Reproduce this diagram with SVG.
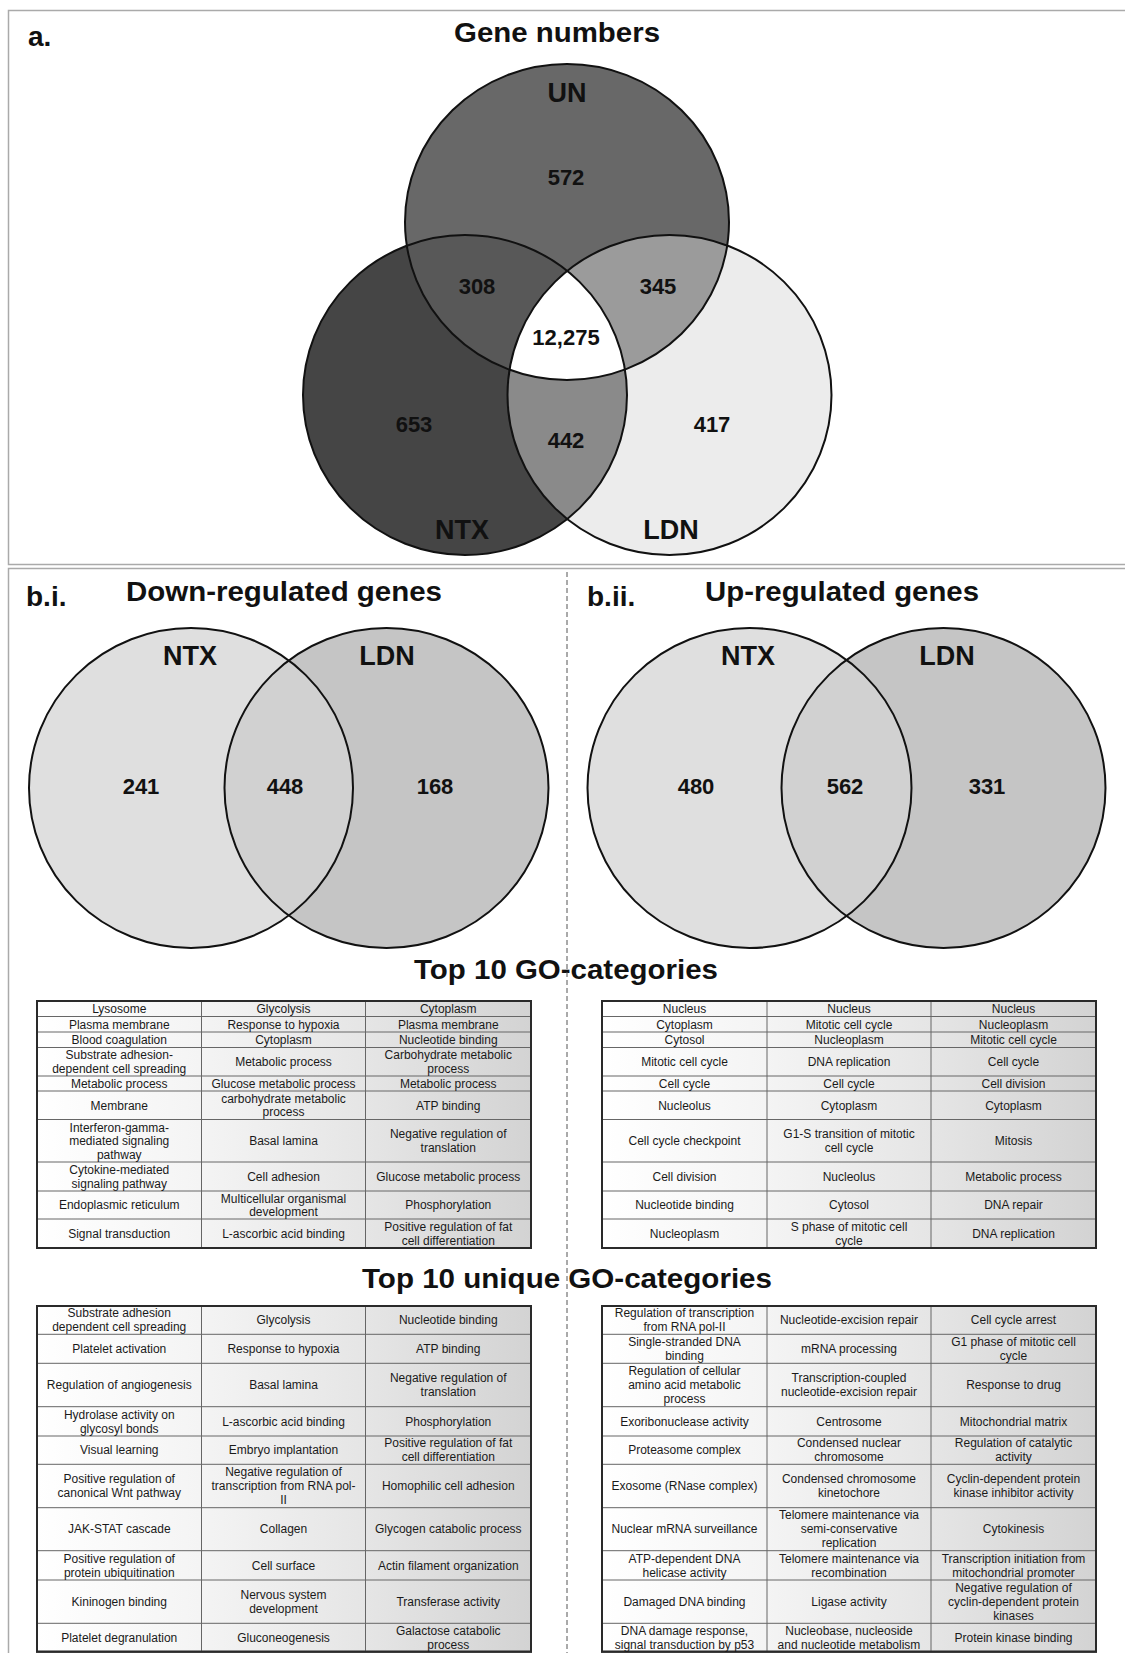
<svg xmlns="http://www.w3.org/2000/svg" width="1125" height="1653" viewBox="0 0 1125 1653">
<style>
text{font-family:"Liberation Sans",Arial,sans-serif;fill:#111}
.h{font-weight:bold;font-size:27px;text-anchor:middle}
.pl{font-weight:bold;font-size:28px}
.lab{font-weight:bold;font-size:27px;text-anchor:middle}
.num{font-weight:bold;font-size:22px;text-anchor:middle}
.c{font-size:12px;text-anchor:middle;fill:#1a1a1a}
.panel{fill:#fff;stroke:#aaa;stroke-width:1.5}
.ol{fill:none;stroke:#111;stroke-width:2}
.grid{fill:none;stroke:#666;stroke-width:1}
.tb{fill:url(#tg);stroke:#2a2a2a;stroke-width:2}
</style>
<defs>
<linearGradient id="tg" x1="0" y1="0" x2="1" y2="0">
<stop offset="0" stop-color="#ffffff"/>
<stop offset="0.33" stop-color="#f4f4f4"/>
<stop offset="0.67" stop-color="#e5e5e5"/>
<stop offset="1" stop-color="#d3d3d3"/>
</linearGradient>
<clipPath id="cUN"><ellipse cx="567" cy="222" rx="162" ry="158"/></clipPath>
<clipPath id="cNTX"><ellipse cx="465" cy="395" rx="162" ry="160"/></clipPath>
<clipPath id="cB1"><ellipse cx="386.5" cy="788" rx="162" ry="160"/></clipPath>
<clipPath id="cB2"><ellipse cx="943.5" cy="788" rx="162" ry="160"/></clipPath>
</defs>
<rect width="1125" height="1653" fill="#fff"/>

<g id="panel-a">
<rect class="panel" x="8.5" y="10.5" width="1130" height="554"/>
<text class="pl" x="28" y="46">a.</text>
<text class="h" x="557" y="42" textLength="206" lengthAdjust="spacingAndGlyphs">Gene numbers</text>
</g>

<g id="venn-a">
<ellipse cx="567" cy="222" rx="162" ry="158" fill="#686868"/>
<ellipse cx="465" cy="395" rx="162" ry="160" fill="#454545"/>
<ellipse cx="669.5" cy="395" rx="162" ry="160" fill="#ececec"/>
<g clip-path="url(#cUN)">
<ellipse cx="465" cy="395" rx="162" ry="160" fill="#585858"/>
<ellipse cx="669.5" cy="395" rx="162" ry="160" fill="#9b9b9b"/>
</g>
<g clip-path="url(#cNTX)">
<ellipse cx="669.5" cy="395" rx="162" ry="160" fill="#8a8a8a"/>
</g>
<g clip-path="url(#cUN)"><g clip-path="url(#cNTX)">
<ellipse cx="669.5" cy="395" rx="162" ry="160" fill="#ffffff"/>
</g></g>
<g id="set-UN"><ellipse class="ol" cx="567" cy="222" rx="162" ry="158"/><text class="lab" x="567" y="102">UN</text></g>
<g id="set-NTX"><ellipse class="ol" cx="465" cy="395" rx="162" ry="160"/><text class="lab" x="462" y="538.5">NTX</text></g>
<g id="set-LDN"><ellipse class="ol" cx="669.5" cy="395" rx="162" ry="160"/><text class="lab" x="671" y="538.5">LDN</text></g>
<text class="num" x="566" y="185">572</text>
<text class="num" x="477" y="293.5">308</text>
<text class="num" x="658" y="293.5">345</text>
<text class="num" x="566" y="345">12,275</text>
<text class="num" x="414" y="432">653</text>
<text class="num" x="566" y="447.5">442</text>
<text class="num" x="712" y="432">417</text>
</g>

<g id="panel-b">
<rect class="panel" x="8.5" y="568.5" width="1130" height="1100"/>
<text class="pl" x="26" y="605.5">b.i.</text>
<text class="h" x="284" y="601" textLength="316" lengthAdjust="spacingAndGlyphs">Down-regulated genes</text>
<text class="pl" x="587" y="605.5">b.ii.</text>
<text class="h" x="842" y="601" textLength="274" lengthAdjust="spacingAndGlyphs">Up-regulated genes</text>
<text class="h" x="566" y="979" textLength="304" lengthAdjust="spacingAndGlyphs">Top 10 GO-categories</text>
<text class="h" x="567" y="1288" textLength="410" lengthAdjust="spacingAndGlyphs">Top 10 unique GO-categories</text>
</g>

<g id="divider">
<line x1="567" y1="572" x2="567" y2="1653" stroke="#555" stroke-width="1" stroke-dasharray="5,3"/>
</g>

<g id="venn-bi">
<ellipse cx="191" cy="788" rx="162" ry="160" fill="#dfdfdf"/>
<ellipse cx="386.5" cy="788" rx="162" ry="160" fill="#c5c5c5"/>
<g clip-path="url(#cB1)"><ellipse cx="191" cy="788" rx="162" ry="160" fill="#d1d1d1"/></g>
<g id="bi-NTX"><ellipse class="ol" cx="191" cy="788" rx="162" ry="160"/><text class="lab" x="190" y="665">NTX</text></g>
<g id="bi-LDN"><ellipse class="ol" cx="386.5" cy="788" rx="162" ry="160"/><text class="lab" x="387" y="665">LDN</text></g>
<text class="num" x="141" y="794">241</text>
<text class="num" x="285" y="794">448</text>
<text class="num" x="435" y="794">168</text>
</g>

<g id="venn-bii">
<ellipse cx="749.5" cy="788" rx="162" ry="160" fill="#dfdfdf"/>
<ellipse cx="943.5" cy="788" rx="162" ry="160" fill="#c5c5c5"/>
<g clip-path="url(#cB2)"><ellipse cx="749.5" cy="788" rx="162" ry="160" fill="#d1d1d1"/></g>
<g id="bii-NTX"><ellipse class="ol" cx="749.5" cy="788" rx="162" ry="160"/><text class="lab" x="748" y="665">NTX</text></g>
<g id="bii-LDN"><ellipse class="ol" cx="943.5" cy="788" rx="162" ry="160"/><text class="lab" x="947" y="665">LDN</text></g>
<text class="num" x="696" y="794">480</text>
<text class="num" x="845" y="794">562</text>
<text class="num" x="987" y="794">331</text>
</g>

<g id="table-down-top10">
<rect class="tb" x="37" y="1001" width="494" height="247"/>
<path class="grid" d="M37 1016.5H531M37 1032H531M37 1047.5H531M37 1076H531M37 1091H531M37 1119.5H531M37 1162H531M37 1191H531M37 1219H531M201.5 1001V1248M365.5 1001V1248"/>
<rect x="37" y="1001" width="494" height="247" fill="none" stroke="#2a2a2a" stroke-width="2"/>
<text class="c" x="119.25" y="1013">Lysosome</text>
<text class="c" x="283.5" y="1013">Glycolysis</text>
<text class="c" x="448.25" y="1013">Cytoplasm</text>
<text class="c" x="119.25" y="1028.5">Plasma membrane</text>
<text class="c" x="283.5" y="1028.5">Response to hypoxia</text>
<text class="c" x="448.25" y="1028.5">Plasma membrane</text>
<text class="c" x="119.25" y="1044">Blood coagulation</text>
<text class="c" x="283.5" y="1044">Cytoplasm</text>
<text class="c" x="448.25" y="1044">Nucleotide binding</text>
<text class="c" x="119.25" y="1059.2"><tspan x="119.25">Substrate adhesion-</tspan><tspan x="119.25" dy="13.5">dependent cell spreading</tspan></text>
<text class="c" x="283.5" y="1066">Metabolic process</text>
<text class="c" x="448.25" y="1059.2"><tspan x="448.25">Carbohydrate metabolic</tspan><tspan x="448.25" dy="13.5">process</tspan></text>
<text class="c" x="119.25" y="1087.7">Metabolic process</text>
<text class="c" x="283.5" y="1087.7">Glucose metabolic process</text>
<text class="c" x="448.25" y="1087.7">Metabolic process</text>
<text class="c" x="119.25" y="1109.5">Membrane</text>
<text class="c" x="283.5" y="1102.7"><tspan x="283.5">carbohydrate metabolic</tspan><tspan x="283.5" dy="13.5">process</tspan></text>
<text class="c" x="448.25" y="1109.5">ATP binding</text>
<text class="c" x="119.25" y="1131.5"><tspan x="119.25">Interferon-gamma-</tspan><tspan x="119.25" dy="13.5">mediated signaling</tspan><tspan x="119.25" dy="13.5">pathway</tspan></text>
<text class="c" x="283.5" y="1145">Basal lamina</text>
<text class="c" x="448.25" y="1138.2"><tspan x="448.25">Negative regulation of</tspan><tspan x="448.25" dy="13.5">translation</tspan></text>
<text class="c" x="119.25" y="1174"><tspan x="119.25">Cytokine-mediated</tspan><tspan x="119.25" dy="13.5">signaling pathway</tspan></text>
<text class="c" x="283.5" y="1180.7">Cell adhesion</text>
<text class="c" x="448.25" y="1180.7">Glucose metabolic process</text>
<text class="c" x="119.25" y="1209.2">Endoplasmic reticulum</text>
<text class="c" x="283.5" y="1202.5"><tspan x="283.5">Multicellular organismal</tspan><tspan x="283.5" dy="13.5">development</tspan></text>
<text class="c" x="448.25" y="1209.2">Phosphorylation</text>
<text class="c" x="119.25" y="1237.7">Signal transduction</text>
<text class="c" x="283.5" y="1237.7">L-ascorbic acid binding</text>
<text class="c" x="448.25" y="1231"><tspan x="448.25">Positive regulation of fat</tspan><tspan x="448.25" dy="13.5">cell differentiation</tspan></text>
</g>

<g id="table-up-top10">
<rect class="tb" x="602" y="1001" width="494" height="247"/>
<path class="grid" d="M602 1016.5H1096M602 1032H1096M602 1047.5H1096M602 1076H1096M602 1091H1096M602 1119.5H1096M602 1162H1096M602 1191H1096M602 1219H1096M767 1001V1248M931 1001V1248"/>
<rect x="602" y="1001" width="494" height="247" fill="none" stroke="#2a2a2a" stroke-width="2"/>
<text class="c" x="684.5" y="1013">Nucleus</text>
<text class="c" x="849" y="1013">Nucleus</text>
<text class="c" x="1013.5" y="1013">Nucleus</text>
<text class="c" x="684.5" y="1028.5">Cytoplasm</text>
<text class="c" x="849" y="1028.5">Mitotic cell cycle</text>
<text class="c" x="1013.5" y="1028.5">Nucleoplasm</text>
<text class="c" x="684.5" y="1044">Cytosol</text>
<text class="c" x="849" y="1044">Nucleoplasm</text>
<text class="c" x="1013.5" y="1044">Mitotic cell cycle</text>
<text class="c" x="684.5" y="1066">Mitotic cell cycle</text>
<text class="c" x="849" y="1066">DNA replication</text>
<text class="c" x="1013.5" y="1066">Cell cycle</text>
<text class="c" x="684.5" y="1087.7">Cell cycle</text>
<text class="c" x="849" y="1087.7">Cell cycle</text>
<text class="c" x="1013.5" y="1087.7">Cell division</text>
<text class="c" x="684.5" y="1109.5">Nucleolus</text>
<text class="c" x="849" y="1109.5">Cytoplasm</text>
<text class="c" x="1013.5" y="1109.5">Cytoplasm</text>
<text class="c" x="684.5" y="1145">Cell cycle checkpoint</text>
<text class="c" x="849" y="1138.2"><tspan x="849">G1-S transition of mitotic</tspan><tspan x="849" dy="13.5">cell cycle</tspan></text>
<text class="c" x="1013.5" y="1145">Mitosis</text>
<text class="c" x="684.5" y="1180.7">Cell division</text>
<text class="c" x="849" y="1180.7">Nucleolus</text>
<text class="c" x="1013.5" y="1180.7">Metabolic process</text>
<text class="c" x="684.5" y="1209.2">Nucleotide binding</text>
<text class="c" x="849" y="1209.2">Cytosol</text>
<text class="c" x="1013.5" y="1209.2">DNA repair</text>
<text class="c" x="684.5" y="1237.7">Nucleoplasm</text>
<text class="c" x="849" y="1231"><tspan x="849">S phase of mitotic cell</tspan><tspan x="849" dy="13.5">cycle</tspan></text>
<text class="c" x="1013.5" y="1237.7">DNA replication</text>
</g>

<g id="table-down-unique">
<rect class="tb" x="37" y="1306" width="494" height="345.7"/>
<path class="grid" d="M37 1334.3H531M37 1363.3H531M37 1406.7H531M37 1436H531M37 1464.3H531M37 1507.7H531M37 1550.7H531M37 1580H531M37 1623.3H531M201.5 1306V1651.7M365.5 1306V1651.7"/>
<rect x="37" y="1306" width="494" height="345.7" fill="none" stroke="#2a2a2a" stroke-width="2"/>
<text class="c" x="119.25" y="1317.4"><tspan x="119.25">Substrate adhesion</tspan><tspan x="119.25" dy="14">dependent cell spreading</tspan></text>
<text class="c" x="283.5" y="1324.4">Glycolysis</text>
<text class="c" x="448.25" y="1324.4">Nucleotide binding</text>
<text class="c" x="119.25" y="1353">Platelet activation</text>
<text class="c" x="283.5" y="1353">Response to hypoxia</text>
<text class="c" x="448.25" y="1353">ATP binding</text>
<text class="c" x="119.25" y="1389.2">Regulation of angiogenesis</text>
<text class="c" x="283.5" y="1389.2">Basal lamina</text>
<text class="c" x="448.25" y="1382.2"><tspan x="448.25">Negative regulation of</tspan><tspan x="448.25" dy="14">translation</tspan></text>
<text class="c" x="119.25" y="1418.5"><tspan x="119.25">Hydrolase activity on</tspan><tspan x="119.25" dy="14">glycosyl bonds</tspan></text>
<text class="c" x="283.5" y="1425.5">L-ascorbic acid binding</text>
<text class="c" x="448.25" y="1425.5">Phosphorylation</text>
<text class="c" x="119.25" y="1454.3">Visual learning</text>
<text class="c" x="283.5" y="1454.3">Embryo implantation</text>
<text class="c" x="448.25" y="1447.3"><tspan x="448.25">Positive regulation of fat</tspan><tspan x="448.25" dy="14">cell differentiation</tspan></text>
<text class="c" x="119.25" y="1483.2"><tspan x="119.25">Positive regulation of</tspan><tspan x="119.25" dy="14">canonical Wnt pathway</tspan></text>
<text class="c" x="283.5" y="1476.2"><tspan x="283.5">Negative regulation of</tspan><tspan x="283.5" dy="14">transcription from RNA pol-</tspan><tspan x="283.5" dy="14">II</tspan></text>
<text class="c" x="448.25" y="1490.2">Homophilic cell adhesion</text>
<text class="c" x="119.25" y="1533.4">JAK-STAT cascade</text>
<text class="c" x="283.5" y="1533.4">Collagen</text>
<text class="c" x="448.25" y="1533.4">Glycogen catabolic process</text>
<text class="c" x="119.25" y="1562.5"><tspan x="119.25">Positive regulation of</tspan><tspan x="119.25" dy="14">protein ubiquitination</tspan></text>
<text class="c" x="283.5" y="1569.5">Cell surface</text>
<text class="c" x="448.25" y="1569.5">Actin filament organization</text>
<text class="c" x="119.25" y="1605.8">Kininogen binding</text>
<text class="c" x="283.5" y="1598.8"><tspan x="283.5">Nervous system</tspan><tspan x="283.5" dy="14">development</tspan></text>
<text class="c" x="448.25" y="1605.8">Transferase activity</text>
<text class="c" x="119.25" y="1641.7">Platelet degranulation</text>
<text class="c" x="283.5" y="1641.7">Gluconeogenesis</text>
<text class="c" x="448.25" y="1634.7"><tspan x="448.25">Galactose catabolic</tspan><tspan x="448.25" dy="14">process</tspan></text>
</g>

<g id="table-up-unique">
<rect class="tb" x="602" y="1306" width="494" height="345.7"/>
<path class="grid" d="M602 1334.3H1096M602 1363.3H1096M602 1406.7H1096M602 1436H1096M602 1464.3H1096M602 1507.7H1096M602 1550.7H1096M602 1580H1096M602 1623.3H1096M767 1306V1651.7M931 1306V1651.7"/>
<rect x="602" y="1306" width="494" height="345.7" fill="none" stroke="#2a2a2a" stroke-width="2"/>
<text class="c" x="684.5" y="1317.4"><tspan x="684.5">Regulation of transcription</tspan><tspan x="684.5" dy="14">from RNA pol-II</tspan></text>
<text class="c" x="849" y="1324.4">Nucleotide-excision repair</text>
<text class="c" x="1013.5" y="1324.4">Cell cycle arrest</text>
<text class="c" x="684.5" y="1346"><tspan x="684.5">Single-stranded DNA</tspan><tspan x="684.5" dy="14">binding</tspan></text>
<text class="c" x="849" y="1353">mRNA processing</text>
<text class="c" x="1013.5" y="1346"><tspan x="1013.5">G1 phase of mitotic cell</tspan><tspan x="1013.5" dy="14">cycle</tspan></text>
<text class="c" x="684.5" y="1375.2"><tspan x="684.5">Regulation of cellular</tspan><tspan x="684.5" dy="14">amino acid metabolic</tspan><tspan x="684.5" dy="14">process</tspan></text>
<text class="c" x="849" y="1382.2"><tspan x="849">Transcription-coupled</tspan><tspan x="849" dy="14">nucleotide-excision repair</tspan></text>
<text class="c" x="1013.5" y="1389.2">Response to drug</text>
<text class="c" x="684.5" y="1425.5">Exoribonuclease activity</text>
<text class="c" x="849" y="1425.5">Centrosome</text>
<text class="c" x="1013.5" y="1425.5">Mitochondrial matrix</text>
<text class="c" x="684.5" y="1454.3">Proteasome complex</text>
<text class="c" x="849" y="1447.3"><tspan x="849">Condensed nuclear</tspan><tspan x="849" dy="14">chromosome</tspan></text>
<text class="c" x="1013.5" y="1447.3"><tspan x="1013.5">Regulation of catalytic</tspan><tspan x="1013.5" dy="14">activity</tspan></text>
<text class="c" x="684.5" y="1490.2">Exosome (RNase complex)</text>
<text class="c" x="849" y="1483.2"><tspan x="849">Condensed chromosome</tspan><tspan x="849" dy="14">kinetochore</tspan></text>
<text class="c" x="1013.5" y="1483.2"><tspan x="1013.5">Cyclin-dependent protein</tspan><tspan x="1013.5" dy="14">kinase inhibitor activity</tspan></text>
<text class="c" x="684.5" y="1533.4">Nuclear mRNA surveillance</text>
<text class="c" x="849" y="1519.4"><tspan x="849">Telomere maintenance via</tspan><tspan x="849" dy="14">semi-conservative</tspan><tspan x="849" dy="14">replication</tspan></text>
<text class="c" x="1013.5" y="1533.4">Cytokinesis</text>
<text class="c" x="684.5" y="1562.5"><tspan x="684.5">ATP-dependent DNA</tspan><tspan x="684.5" dy="14">helicase activity</tspan></text>
<text class="c" x="849" y="1562.5"><tspan x="849">Telomere maintenance via</tspan><tspan x="849" dy="14">recombination</tspan></text>
<text class="c" x="1013.5" y="1562.5"><tspan x="1013.5">Transcription initiation from</tspan><tspan x="1013.5" dy="14">mitochondrial promoter</tspan></text>
<text class="c" x="684.5" y="1605.8">Damaged DNA binding</text>
<text class="c" x="849" y="1605.8">Ligase activity</text>
<text class="c" x="1013.5" y="1591.8"><tspan x="1013.5">Negative regulation of</tspan><tspan x="1013.5" dy="14">cyclin-dependent protein</tspan><tspan x="1013.5" dy="14">kinases</tspan></text>
<text class="c" x="684.5" y="1634.7"><tspan x="684.5">DNA damage response,</tspan><tspan x="684.5" dy="14">signal transduction by p53</tspan></text>
<text class="c" x="849" y="1634.7"><tspan x="849">Nucleobase, nucleoside</tspan><tspan x="849" dy="14">and nucleotide metabolism</tspan></text>
<text class="c" x="1013.5" y="1641.7">Protein kinase binding</text>
</g>
</svg>
